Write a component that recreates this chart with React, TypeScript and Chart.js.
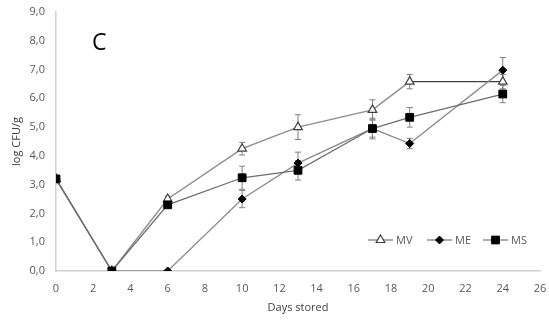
import React, { useEffect, useRef } from "react";
import { Chart, registerables } from "chart.js";

Chart.register(...registerables);

const days = [0, 3, 6, 10, 13, 17, 19, 24];
const mvValues = [3.2, 0, 2.5, 4.25, 5.0, 5.6, 6.58, 6.58];
const mvErrors = [0, 0, 0.1, 0.22, 0.43, 0.35, 0.25, 0.25];
const meValues = [3.2, 0, 0, 2.5, 3.75, 4.95, 4.43, 6.98];
const meErrors = [0, 0, 0, 0.3, 0.38, 0.3, 0.18, 0.44];
const msValues = [3.2, 0, 2.3, 3.24, 3.5, 4.95, 5.34, 6.15];
const msErrors = [0, 0, 0.1, 0.4, 0.34, 0.36, 0.34, 0.3];
const seriesNames = ["MV", "ME", "MS"];
const xTicks = [0, 2, 4, 6, 8, 10, 12, 14, 16, 18, 20, 22, 24, 26];
const yTicks = [0, 1, 2, 3, 4, 5, 6, 7, 8, 9];
const panelLabel = "C";
const xTitle = "Days stored";
const yTitle = "log CFU/g";

const FONT = "'Open Sans', 'Liberation Sans', sans-serif";
const TEXT = "#595959";

const errorBarPlugin = {
  id: "errorBars",
  beforeDatasetsDraw(chart: any) {
    const ctx = chart.ctx;
    const ys = chart.scales.y;
    const xs = chart.scales.x;
    chart.data.datasets.forEach((ds: any) => {
      const errs: number[] = ds.errors || [];
      ctx.save();
      ctx.strokeStyle = "#7f7f7f";
      ctx.lineWidth = 1;
      ds.data.forEach((p: any, i: number) => {
        const e = errs[i];
        if (!e) return;
        const x = xs.getPixelForValue(p.x);
        const y1 = ys.getPixelForValue(p.y - e);
        const y2 = ys.getPixelForValue(p.y + e);
        ctx.beginPath();
        ctx.moveTo(x, y1);
        ctx.lineTo(x, y2);
        ctx.moveTo(x - 3, y1);
        ctx.lineTo(x + 3, y1);
        ctx.moveTo(x - 3, y2);
        ctx.lineTo(x + 3, y2);
        ctx.stroke();
      });
      ctx.restore();
    });
  },
};

function drawMarker(ctx: CanvasRenderingContext2D, ds: any, x: number, y: number) {
  const r = ds.pointRadius;
  ctx.save();
  ctx.fillStyle = ds.pointBackgroundColor;
  ctx.strokeStyle = ds.pointBorderColor;
  ctx.lineWidth = ds.pointBorderWidth;
  ctx.beginPath();
  if (ds.pointStyle === "triangle") {
    ctx.moveTo(x, y - r);
    ctx.lineTo(x + r * 0.866, y + r * 0.5);
    ctx.lineTo(x - r * 0.866, y + r * 0.5);
    ctx.closePath();
  } else if (ds.pointStyle === "rectRot") {
    ctx.moveTo(x, y - r);
    ctx.lineTo(x + r, y);
    ctx.lineTo(x, y + r);
    ctx.lineTo(x - r, y);
    ctx.closePath();
  } else {
    const s = r * Math.SQRT1_2;
    ctx.rect(x - s, y - s, 2 * s, 2 * s);
  }
  ctx.fill();
  ctx.stroke();
  ctx.restore();
}

const extrasPlugin = {
  id: "extras",
  afterDraw(chart: any) {
    const ctx = chart.ctx;
    ctx.save();
    ctx.fillStyle = "#000";
    ctx.font = `23px ${FONT}`;
    ctx.textAlign = "left";
    ctx.textBaseline = "middle";
    ctx.fillText(panelLabel, 92, 43);
    const ly = 240;
    const xs = [368, 427, 483];
    chart.data.datasets.forEach((ds: any, i: number) => {
      const x0 = xs[i];
      ctx.strokeStyle = "#808080";
      ctx.lineWidth = 1.3;
      ctx.beginPath();
      ctx.moveTo(x0, ly);
      ctx.lineTo(x0 + 25, ly);
      ctx.stroke();
      drawMarker(ctx, ds, x0 + 12.5, ly);
      ctx.fillStyle = TEXT;
      ctx.font = `11px ${FONT}`;
      ctx.textAlign = "left";
      ctx.textBaseline = "middle";
      ctx.fillText(ds.label, x0 + 28, ly + 1);
    });
    ctx.restore();
  },
};

const toPoints = (vals: number[]) => days.map((d, i) => ({ x: d, y: vals[i] }));

export default function App() {
  const ref = useRef<HTMLCanvasElement | null>(null);
  useEffect(() => {
    document.body.style.margin = "0";
    const canvas = ref.current;
    if (!canvas) return;
    const chart = new Chart(canvas, {
      type: "scatter",
      data: {
        datasets: [
          {
            label: seriesNames[0],
            data: toPoints(mvValues),
            errors: mvErrors,
            showLine: true,
            borderColor: "#8c8c8c",
            borderWidth: 1.3,
            pointStyle: "triangle",
            pointRadius: 5,
            pointBackgroundColor: "#ffffff",
            pointBorderColor: "#404040",
            pointBorderWidth: 1.2,
            segment: {
              borderColor: (c: any) => (c.p0DataIndex === 6 ? "#404040" : "#8c8c8c"),
            },
            order: 3,
          } as any,
          {
            label: seriesNames[1],
            data: toPoints(meValues),
            errors: meErrors,
            showLine: true,
            borderColor: "#8c8c8c",
            borderWidth: 1.3,
            pointStyle: "rectRot",
            pointRadius: 4,
            pointBackgroundColor: "#000000",
            pointBorderColor: "#000000",
            pointBorderWidth: 1,
            order: 2,
          } as any,
          {
            label: seriesNames[2],
            data: toPoints(msValues),
            errors: msErrors,
            showLine: true,
            borderColor: "#6e6e6e",
            borderWidth: 1.3,
            pointStyle: "rect",
            pointRadius: 5.5,
            pointBackgroundColor: "#000000",
            pointBorderColor: "#000000",
            pointBorderWidth: 1,
            order: 1,
          } as any,
        ],
      },
      options: {
        animation: false,
        responsive: false,
        maintainAspectRatio: false,
        layout: { padding: { left: 10, right: 9, top: 12, bottom: 9 } },
        plugins: {
          legend: { display: false },
          tooltip: { enabled: false },
        },
        scales: {
          x: {
            type: "linear",
            min: 0,
            max: 26,
            afterBuildTicks: (s: any) => {
              s.ticks = xTicks.map((v) => ({ value: v }));
            },
            afterFit: (s: any) => {
              s.height = 43;
              s.paddingLeft = 0;
              s.paddingRight = 0;
              s.paddingTop = 0;
              s.paddingBottom = 0;
            },
            grid: { display: false, drawTicks: false },
            border: { display: true, color: "#d0d0d0", width: 1.5 },
            ticks: {
              color: TEXT,
              font: { family: FONT, size: 11 },
              padding: 11,
              maxRotation: 0,
              autoSkip: false,
            },
            title: {
              display: true,
              text: xTitle,
              color: "#404040",
              font: { family: FONT, size: 11 },
              padding: { top: 2, bottom: 0 },
            },
          },
          y: {
            type: "linear",
            min: 0,
            max: 9,
            afterBuildTicks: (s: any) => {
              s.ticks = yTicks.map((v) => ({ value: v }));
            },
            afterFit: (s: any) => {
              s.width = 46;
              s.paddingLeft = 0;
              s.paddingRight = 0;
              s.paddingTop = 0;
              s.paddingBottom = 0;
            },
            grid: { display: false, drawTicks: false },
            border: { display: true, color: "#d0d0d0", width: 1.5 },
            ticks: {
              color: TEXT,
              font: { family: FONT, size: 11 },
              padding: 11,
              callback: (v: any) => Number(v).toFixed(1).replace(".", ","),
            },
            title: {
              display: true,
              text: yTitle,
              color: "#404040",
              font: { family: FONT, size: 11 },
              padding: { top: 0, bottom: 0 },
            },
          },
        },
      } as any,
      plugins: [errorBarPlugin, extrasPlugin],
    });
    return () => chart.destroy();
  }, []);
  return (
    <div style={{ position: "absolute", left: 0, top: 0, width: 549, height: 323, background: "#fff" }}>
      <canvas ref={ref} width={549} height={323} style={{ width: 549, height: 323 }} />
    </div>
  );
}
